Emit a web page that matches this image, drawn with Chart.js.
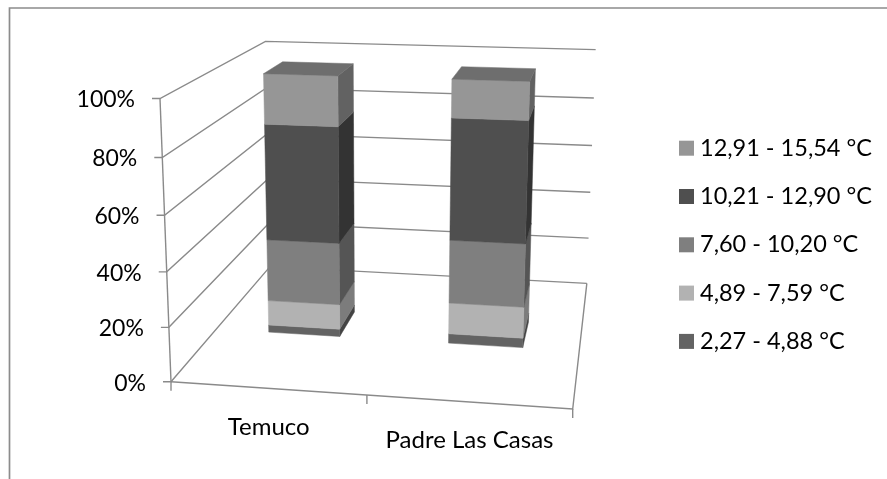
<!DOCTYPE html>
<html>
<head>
<meta charset="utf-8">
<title>Temperature ranges</title>
<script src="https://cdn.jsdelivr.net/npm/chart.js@4"></script>
<style>
  html, body { margin: 0; padding: 0; background: #fff; overflow: hidden; }
  canvas { display: block; }
</style>
</head>
<body>
<canvas id="chart" width="887" height="479"></canvas>
<script>
const categories = ['Temuco', 'Padre Las Casas'];

// stacked shares in percent, bottom of the bar first
const range1 = [2.9, 3.7];
const range2 = [9.8, 12.1];
const range3 = [24.1, 24.3];
const range4 = [44.4, 45.8];
const range5 = [18.8, 14.1];

const rangeLabels = ['2,27 - 4,88 °C', '4,89 - 7,59 °C', '7,60 - 10,20 °C', '10,21 - 12,90 °C', '12,91 - 15,54 °C'];
const rangeValues = [range1, range2, range3, range4, range5];
const frontColors = ['#636363', '#b2b2b2', '#7f7f7f', '#4f4f4f', '#969696'];
const sideColors = ['#434343', '#7c7c7c', '#555555', '#333333', '#626262'];
const capColor = '#6e6e6e';
const lineColor = '#8a8a8a';

// camera: screen position of the box corners next to the origin,
// plus perspective weight along each box axis
const origin = [171, 381.7];
const alongX = [572.7, 409];
const alongY = [160, 98.5];
const alongZ = [270, 266.6];
const weightX = 0.952, weightY = 0.95, weightZ = 1.27;

// bars stand in this slice of the floor depth
const barNear = 0.40, barFar = 0.61;

function project(u, v, z) {
  const d = (weightX - 1) * u + (weightY - 1) * v + (weightZ - 1) * z + 1;
  const axis = i => ((weightX * alongX[i] - origin[i]) * u
    + (weightY * alongY[i] - origin[i]) * v
    + (weightZ * alongZ[i] - origin[i]) * z + origin[i]) / d;
  return [axis(0), axis(1)];
}

function stroke(ctx, pts) {
  ctx.beginPath();
  pts.forEach((p, i) => i ? ctx.lineTo(p[0], p[1]) : ctx.moveTo(p[0], p[1]));
  ctx.stroke();
}

function face(ctx, pts, color) {
  ctx.fillStyle = color;
  ctx.strokeStyle = color;
  ctx.lineWidth = 0.5;
  ctx.beginPath();
  pts.forEach((p, i) => i ? ctx.lineTo(p[0], p[1]) : ctx.moveTo(p[0], p[1]));
  ctx.closePath();
  ctx.fill();
  ctx.stroke();
}

function drawFrame(ctx) {
  ctx.strokeStyle = '#8c8c8c';
  ctx.lineWidth = 1.7;
  stroke(ctx, [[9.5, 479], [9.5, 8], [887, 8]]);
}

function drawWalls(chart, ctx) {
  const yScale = chart.scales.y;
  ctx.strokeStyle = lineColor;
  ctx.lineWidth = 1.4;
  ctx.fillStyle = '#000';
  ctx.textBaseline = 'middle';

  // value gridlines wrap the left and back walls
  ctx.font = '23px Lato';
  ctx.textAlign = 'right';
  yScale.ticks.forEach(t => {
    const v = t.value / yScale.max;
    const front = project(0, v, 0);
    stroke(ctx, [project(1, v, 1), project(0, v, 1), front, [front[0] - 8, front[1]]]);
    ctx.fillText(t.label, front[0] - 25, front[1] + 1.5);
  });

  stroke(ctx, [project(0, 1, 0), project(0, 0, 0)]);
  stroke(ctx, [project(0, 0, 0), project(1, 0, 0), project(1, 0, 1)]);

  // category ticks sit at the band edges, labels at the band centres
  const n = categories.length;
  for (let i = 0; i <= n; i++) {
    const p = project(i / n, 0, 0);
    stroke(ctx, [p, [p[0], p[1] + 9]]);
  }
  ctx.font = '24px Lato';
  ctx.textAlign = 'center';
  chart.scales.x.ticks.forEach((t, i) => {
    const p = project((i + 0.5) / n, 0, 0);
    ctx.fillText(chart.scales.x.getLabelForValue(t.value), p[0] + 1, p[1] + 38.5);
  });
}

function drawBars(chart, ctx) {
  const area = chart.chartArea;
  const yScale = chart.scales.y;
  const toU = px => (px - area.left) / area.width;
  const toV = px => yScale.getValueForPixel(px) / yScale.max;

  chart.getDatasetMeta(0).data.forEach((_, col) => {
    chart.data.datasets.forEach((ds, s) => {
      const bar = chart.getDatasetMeta(s).data[col];
      const u0 = toU(bar.x - bar.width / 2), u1 = toU(bar.x + bar.width / 2);
      const v0 = toV(bar.base), v1 = toV(bar.y);
      face(ctx, [project(u1, v0, barNear), project(u1, v0, barFar), project(u1, v1, barFar), project(u1, v1, barNear)], sideColors[s]);
      face(ctx, [project(u0, v0, barNear), project(u1, v0, barNear), project(u1, v1, barNear), project(u0, v1, barNear)], frontColors[s]);
      if (s === chart.data.datasets.length - 1) {
        face(ctx, [project(u0, v1, barNear), project(u1, v1, barNear), project(u1, v1, barFar), project(u0, v1, barFar)], capColor);
      }
    });
  });
}

// legend runs top to bottom, last range first
function drawLegend(chart, ctx) {
  ctx.font = '23.5px Lato';
  ctx.textAlign = 'left';
  ctx.textBaseline = 'middle';
  const sets = chart.data.datasets;
  sets.forEach((ds, i) => {
    const top = 140.7 + (sets.length - 1 - i) * 48.3;
    ctx.fillStyle = ds.backgroundColor;
    ctx.fillRect(679, top, 15, 15);
    ctx.fillStyle = '#000';
    ctx.fillText(ds.label, 700, top + 7.5);
  });
}

const perspectivePlugin = {
  id: 'perspective',
  beforeDatasetsDraw(chart) {
    const ctx = chart.ctx;
    ctx.save();
    drawFrame(ctx);
    drawWalls(chart, ctx);
    drawBars(chart, ctx);
    drawLegend(chart, ctx);
    ctx.restore();
  },
  // the flat rectangles are replaced by the boxes above
  beforeDatasetDraw() {
    return false;
  }
};

new Chart(document.getElementById('chart'), {
  type: 'bar',
  data: {
    labels: categories,
    datasets: rangeLabels.map((label, i) => ({
      label: label,
      data: rangeValues[i],
      backgroundColor: frontColors[i],
      borderWidth: 0,
      categoryPercentage: 0.4,
      barPercentage: 1
    }))
  },
  options: {
    responsive: false,
    animation: false,
    events: [],
    scales: {
      x: { stacked: true, display: false },
      y: {
        stacked: true,
        display: false,
        min: 0,
        max: 100,
        ticks: { stepSize: 20, callback: v => v + '%' }
      }
    },
    plugins: {
      tooltip: { enabled: false },
      legend: { display: false }
    }
  },
  plugins: [perspectivePlugin]
});
</script>
</body>
</html>
